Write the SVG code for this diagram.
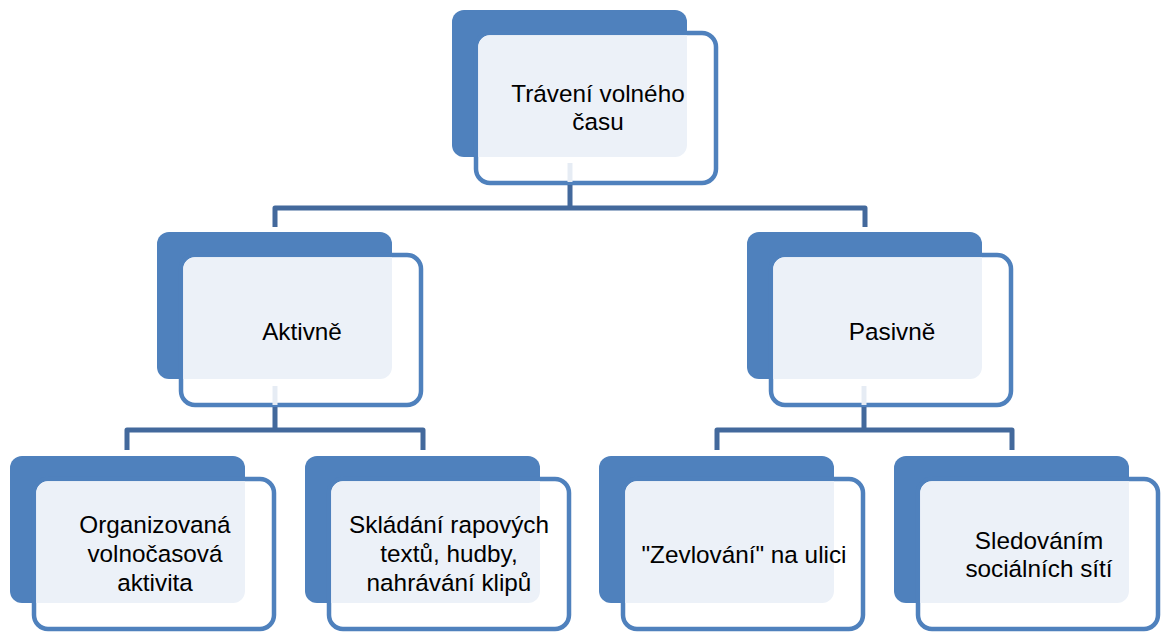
<svg xmlns="http://www.w3.org/2000/svg" xmlns:xlink="http://www.w3.org/1999/xlink" width="1161" height="632" viewBox="0 0 1161 632">
<style>
.back{fill:#4F81BD}
.front{fill:#FFFFFF;stroke:#4F81BD;stroke-width:4.5}
.light{fill:#ECF1F8}
.lbl{font-family:"Liberation Sans",Arial,sans-serif;font-size:24.3px;fill:#000;text-anchor:middle}
.conn{fill:none;stroke:#43699C;stroke-width:5;stroke-linejoin:round}
.pale{fill:none;stroke:#E6ECF4;stroke-width:5}
</style>
<defs>
<clipPath id="fc"><rect x="26.25" y="25.25" width="235.5" height="145.5" rx="11.75"/></clipPath>
<g id="box">
<rect class="back" x="0" y="0" width="235" height="147" rx="12"/>
<rect class="front" x="24" y="23" width="240" height="150" rx="14"/>
<rect class="light" x="0" y="0" width="235" height="147" rx="12" clip-path="url(#fc)"/>
</g>
</defs>
<rect width="1161" height="632" fill="#FFFFFF"/>
<g id="n-top">
<use xlink:href="#box" href="#box" x="452" y="10"/>
<text class="lbl" x="598" y="102">Trávení volného</text>
<text class="lbl" x="598" y="130">času</text>
</g>
<g id="n-aktivne">
<use xlink:href="#box" href="#box" x="157" y="232"/>
<text class="lbl" x="302" y="340">Aktivně</text>
</g>
<g id="n-pasivne">
<use xlink:href="#box" href="#box" x="747" y="232"/>
<text class="lbl" x="892" y="340">Pasivně</text>
</g>
<g id="n-organizovana">
<use xlink:href="#box" href="#box" x="10" y="456"/>
<text class="lbl" x="155" y="533">Organizovaná</text>
<text class="lbl" x="155" y="562">volnočasová</text>
<text class="lbl" x="155" y="591">aktivita</text>
</g>
<g id="n-skladani">
<use xlink:href="#box" href="#box" x="305" y="456"/>
<text class="lbl" x="449" y="533">Skládání rapových</text>
<text class="lbl" x="449" y="562">textů, hudby,</text>
<text class="lbl" x="449" y="591">nahrávání klipů</text>
</g>
<g id="n-zevlovani">
<use xlink:href="#box" href="#box" x="599" y="456"/>
<text class="lbl" x="744" y="563">"Zevlování" na ulici</text>
</g>
<g id="n-sledovanim">
<use xlink:href="#box" href="#box" x="894" y="456"/>
<text class="lbl" x="1039" y="549">Sledováním</text>
<text class="lbl" x="1039" y="577">sociálních sítí</text>
</g>
<g id="connectors">
<path class="conn" d="M275,227 V208 H865 V227 M570,185 V208"/>
<path class="pale" d="M570,163 V182"/>
<path class="conn" d="M127,450 V430 H423 V450 M275,407 V430"/>
<path class="pale" d="M275,386 V405"/>
<path class="conn" d="M717,450 V430 H1012 V450 M864,407 V430"/>
<path class="pale" d="M864,386 V405"/>
</g>
</svg>
